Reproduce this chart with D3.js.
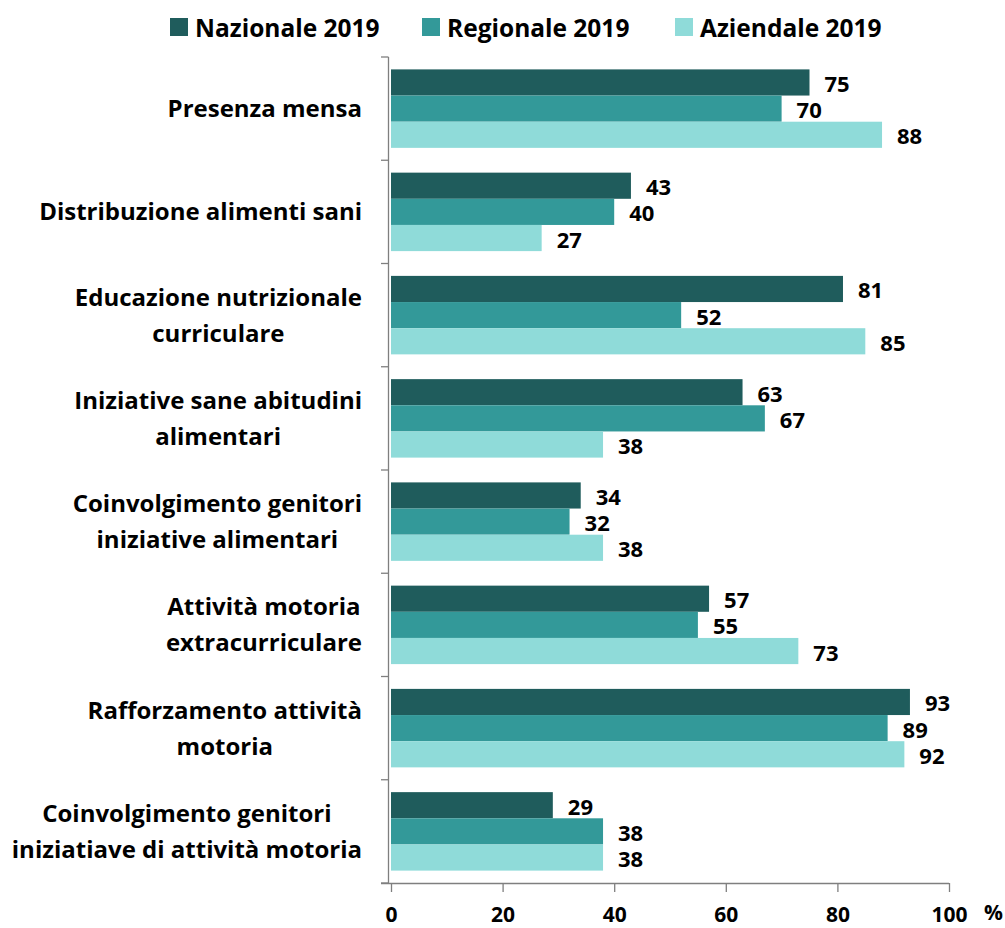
<!DOCTYPE html>
<html>
<head>
<meta charset="utf-8">
<script src="https://cdn.jsdelivr.net/npm/d3@7"></script>
<style>
  html, body { margin: 0; padding: 0; background: #fff; }
  svg text { font-family: "Open Sans", Lato, sans-serif; font-weight: bold; fill: #000; }
</style>
</head>
<body>
<svg id="chart" width="1005" height="928"></svg>
<script>
// Categories (each entry is the list of wrapped lines)
const categories = [
  ["Presenza mensa"],
  ["Distribuzione alimenti sani"],
  ["Educazione nutrizionale", "curriculare"],
  ["Iniziative sane abitudini", "alimentari"],
  ["Coinvolgimento genitori", "iniziative alimentari"],
  ["Attività motoria", "extracurriculare"],
  ["Rafforzamento attività", "motoria"],
  ["Coinvolgimento genitori", "iniziatiave di attività motoria"]
];
const seriesNames = ["Nazionale 2019", "Regionale 2019", "Aziendale 2019"];
const nazionale = [75, 43, 81, 63, 34, 57, 93, 29];
const regionale = [70, 40, 52, 67, 32, 55, 89, 38];
const aziendale = [88, 27, 85, 38, 38, 73, 92, 38];
const xTicks = [0, 20, 40, 60, 80, 100];
const colors = ["#1f5c5c", "#339999", "#8fdbd9"];

const series = [nazionale, regionale, aziendale];
const svg = d3.select("#chart");

const plot = { left: 391, right: 949, top: 57, bottom: 883 };

const x = d3.scaleLinear().domain([0, 100]).range([plot.left, plot.right]);
const y = d3.scaleBand().domain(d3.range(categories.length))
  .range([plot.top, plot.bottom]).paddingInner(0.24).paddingOuter(0.12);
const ySub = d3.scaleBand().domain(d3.range(series.length)).range([0, y.bandwidth()]);

// Category boundaries for the left axis ticks
const yEdge = d3.scaleLinear().domain([0, categories.length]).range([plot.top, plot.bottom]);

// Bars and value labels
series.forEach((vals, si) => {
  svg.append("g").selectAll("rect").data(vals).join("rect")
    .attr("x", x(0))
    .attr("y", (d, i) => y(i) + ySub(si))
    .attr("width", d => x(d) - x(0))
    .attr("height", ySub.bandwidth())
    .attr("fill", colors[si]);
  svg.append("g").selectAll("text").data(vals).join("text")
    .attr("x", d => x(d) + 15)
    .attr("y", (d, i) => y(i) + ySub(si) + ySub.bandwidth() / 2 + 9.5)
    .style("font-size", "22px")
    .text(d => d);
});

// Vertical axis line with category tick marks
const axisColor = "#7f7f7f";
svg.append("line")
  .attr("x1", 388.5).attr("x2", 388.5)
  .attr("y1", plot.top).attr("y2", plot.bottom)
  .attr("stroke", axisColor).attr("stroke-width", 1.3);
svg.append("g").selectAll("line").data(d3.range(categories.length + 1)).join("line")
  .attr("x1", 381).attr("x2", 388.5)
  .attr("y1", d => yEdge(d)).attr("y2", d => yEdge(d))
  .attr("stroke", axisColor).attr("stroke-width", 1.3);

// Horizontal axis
const xAxis = d3.axisBottom(x).tickValues(xTicks).tickSize(9).tickPadding(0);
const gx = svg.append("g").attr("transform", `translate(0,${plot.bottom})`).call(xAxis);
gx.select(".domain").attr("stroke", axisColor).attr("stroke-width", 1.3)
  .attr("d", `M${plot.left - 10},0.5H${plot.right}`);
gx.selectAll(".tick line").attr("stroke", axisColor).attr("stroke-width", 1.3);
gx.selectAll(".tick text")
  .attr("y", 39).attr("dy", null)
  .style("font-size", "21px").style("font-family", "'Open Sans', sans-serif")
  .style("font-weight", "bold").attr("fill", "#000");

svg.append("text").attr("x", 984).attr("y", 920)
  .style("font-size", "21px").text("%");

// Category labels: lines centred on each other, block right-aligned
const labelRight = 362;
const lineH = 36;
categories.forEach((lines, i) => {
  const cy = y(i) + y.bandwidth() / 2;
  const g = svg.append("g");
  const texts = lines.map((ln, k) => g.append("text")
    .style("font-size", "24px")
    .attr("text-anchor", "middle")
    .attr("y", cy + (k - (lines.length - 1) / 2) * lineH + 8.5)
    .text(ln));
  const maxW = d3.max(texts, t => t.node().getComputedTextLength());
  texts.forEach(t => t.attr("x", labelRight - maxW / 2));
});

// Legend
const legendX = [170, 422, 675];
seriesNames.forEach((name, i) => {
  svg.append("rect").attr("x", legendX[i]).attr("y", 18).attr("width", 18).attr("height", 18)
    .attr("fill", colors[i]);
  svg.append("text").attr("x", legendX[i] + 25).attr("y", 37)
    .style("font-size", "24.5px").text(name);
});
</script>
</body>
</html>
